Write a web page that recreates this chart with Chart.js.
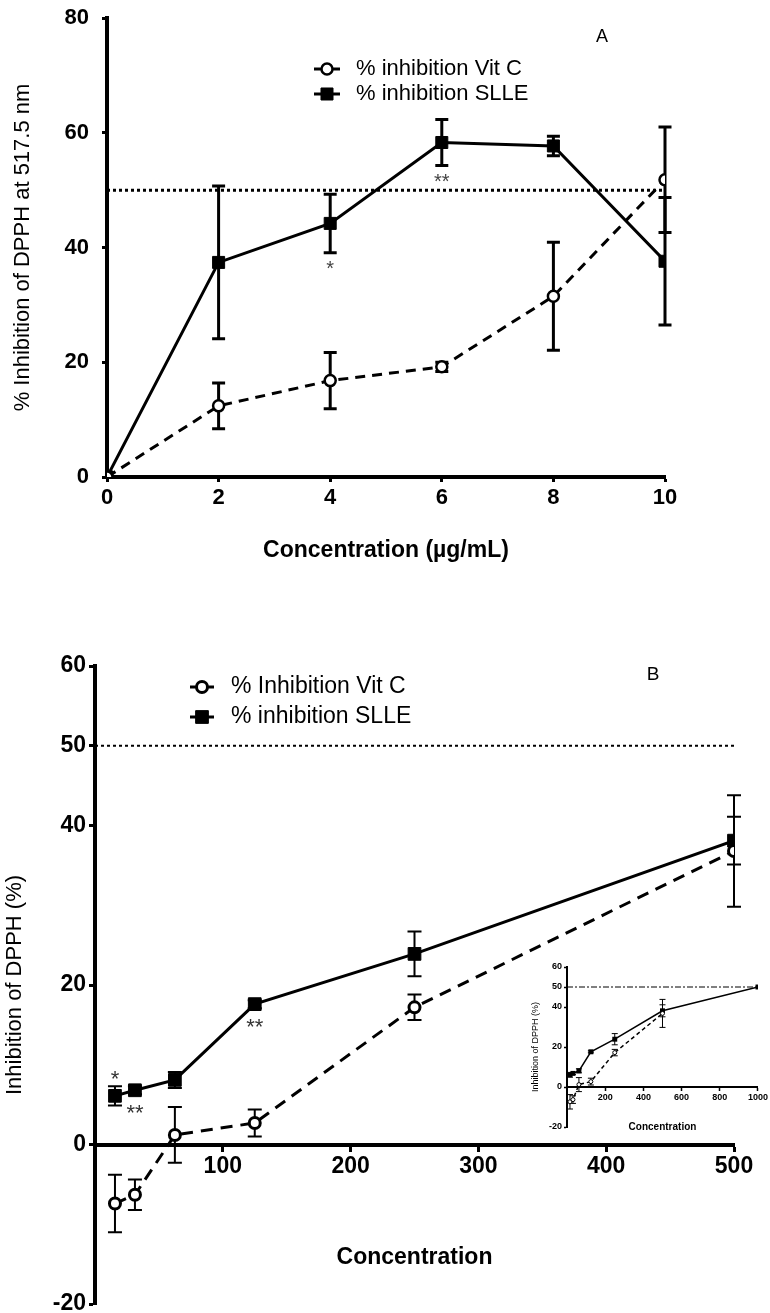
<!DOCTYPE html>
<html>
<head>
<meta charset="utf-8">
<script src="https://cdn.jsdelivr.net/npm/chart.js@4/dist/chart.umd.min.js"></script>
<style>
  body { margin: 0; background: #fff; }
  #wrap { position: relative; width: 770px; height: 1313px; overflow: hidden; background: #fff; }
  canvas { position: absolute; }
</style>
</head>
<body>
<div id="wrap">
  <canvas id="chartA" width="770" height="590" style="left:0;top:0"></canvas>
  <canvas id="chartB" width="770" height="700" style="left:0;top:640px"></canvas>
  <canvas id="inset" width="250" height="230" style="left:520px;top:945px"></canvas>
</div>
<script>
// Panel A: 0-10 ug/mL
const concA = [0, 2, 4, 6, 8, 10];
const vitCA = [0, 12.4, 16.8, 19.2, 31.5, 51.8];
const vitCErrA = [0, 4.0, 4.9, 0.8, 9.4, 9.2];
const slleA = [0, 37.4, 44.2, 58.3, 57.7, 37.6];
const slleErrA = [0, 13.3, 5.1, 4.0, 1.7, 11.1];
const sigA = ["", "", "*", "**", "", ""];
const xTicksA = [0, 2, 4, 6, 8, 10];
const yTicksA = [0, 20, 40, 60, 80];

// Panel B: 15.6-500
const concB = [15.625, 31.25, 62.5, 125, 250, 500];
const vitCB = [-7.4, -6.3, 1.2, 2.7, 17.2, 36.8];
const vitCErrB = [3.6, 1.9, 3.5, 1.7, 1.6, 7.0];
const slleB = [6.1, 6.8, 8.1, 17.6, 23.9, 38.1];
const slleErrB = [1.2, 0.5, 1.0, 0.5, 2.8, 3.0];
const sigB = ["*", "**", "", "**", "", ""];
const sigPosB = ["above", "below", "", "below", "", ""];
const xTicksB = [100, 200, 300, 400, 500];
const yTicksB = [-20, 0, 20, 40, 50, 60];

// inset: SLLE carried on to 1000
const concInset = [15.625, 31.25, 62.5, 125, 250, 500, 1000];
const slleInset = [6.1, 6.8, 8.1, 17.6, 23.9, 38.1, 50];
const slleErrInset = [1.2, 0.5, 1.0, 0.5, 2.8, 3.0, 0];
const xTicksInset = [200, 400, 600, 800, 1000];

const halfLine = 50;
const FONT = "'Liberation Sans', Arial, sans-serif";

function pts(xs, ys) {
  return xs.map((x, i) => ({ x: x, y: ys[i] }));
}

function drawMarker(ctx, ds, x, y) {
  const r = ds.pointRadius;
  ctx.save();
  ctx.fillStyle = ds.pointBackgroundColor;
  ctx.strokeStyle = "#000";
  ctx.lineWidth = ds.pointBorderWidth;
  ctx.setLineDash([]);
  ctx.beginPath();
  if (ds.pointStyle === "rect") {
    const s = r * Math.SQRT1_2;
    ctx.rect(x - s, y - s, 2 * s, 2 * s);
  } else {
    ctx.arc(x, y, r, 0, Math.PI * 2);
  }
  ctx.fill();
  if (ds.pointBorderWidth > 0) ctx.stroke();
  ctx.restore();
}

// error bars, significance stars, legend and panel letter
const decor = {
  id: "decor",
  beforeDatasetsDraw(chart, args, opts) {
    const ctx = chart.ctx;
    const ys = chart.scales.y;
    chart.data.datasets.forEach((ds, i) => {
      if (!ds.errors) return;
      const meta = chart.getDatasetMeta(i);
      ctx.save();
      ctx.strokeStyle = "#000";
      ctx.lineWidth = opts.errWidth;
      meta.data.forEach((pt, j) => {
        const e = ds.errors[j];
        if (!e) return;
        const v = ds.data[j].y;
        const top = ys.getPixelForValue(v + e);
        const bot = ys.getPixelForValue(v - e);
        ctx.beginPath();
        ctx.moveTo(pt.x, top); ctx.lineTo(pt.x, bot);
        ctx.moveTo(pt.x - opts.cap, top); ctx.lineTo(pt.x + opts.cap, top);
        ctx.moveTo(pt.x - opts.cap, bot); ctx.lineTo(pt.x + opts.cap, bot);
        ctx.stroke();
      });
      ctx.restore();
    });
  },
  afterDatasetsDraw(chart, args, opts) {
    const ctx = chart.ctx;
    const ys = chart.scales.y;
    chart.data.datasets.forEach((ds, i) => {
      if (!ds.sig) return;
      const meta = chart.getDatasetMeta(i);
      ctx.save();
      ctx.fillStyle = opts.sigColor;
      ctx.font = opts.sigSize + "px " + FONT;
      ctx.textAlign = "center";
      ctx.textBaseline = "alphabetic";
      meta.data.forEach((pt, j) => {
        if (!ds.sig[j]) return;
        const v = ds.data[j].y;
        const e = ds.errors ? ds.errors[j] : 0;
        const above = ds.sigPos && ds.sigPos[j] === "above";
        const cy = above ? ys.getPixelForValue(v + e) - opts.sigGap
                         : ys.getPixelForValue(v - e) + opts.sigGap;
        ctx.fillText(ds.sig[j], pt.x, cy + 0.57 * opts.sigSize);
      });
      ctx.restore();
    });

    const lg = opts.legend;
    if (lg) {
      let row = 0;
      chart.data.datasets.forEach((ds) => {
        if (!ds.legendLabel) return;
        const y = lg.y + row * lg.rowGap;
        ctx.save();
        ctx.strokeStyle = "#000";
        ctx.lineWidth = lg.lineWidth;
        ctx.beginPath();
        ctx.moveTo(lg.x, y);
        ctx.lineTo(lg.x + lg.lineLen, y);
        ctx.stroke();
        ctx.restore();
        drawMarker(ctx, ds, lg.x + lg.lineLen / 2, y);
        ctx.save();
        ctx.fillStyle = "#000";
        ctx.font = lg.size + "px " + FONT;
        ctx.textBaseline = "middle";
        ctx.fillText(ds.legendLabel, lg.textX, y);
        ctx.restore();
        row++;
      });
    }
    const p = opts.panel;
    if (p) {
      ctx.save();
      ctx.fillStyle = "#000";
      ctx.font = p.size + "px " + FONT;
      ctx.textAlign = "center";
      ctx.textBaseline = "middle";
      ctx.fillText(p.text, p.x, p.y);
      ctx.restore();
    }
  }
};

function axis(o) {
  return {
    type: "linear",
    min: o.min,
    max: o.max,
    position: o.position,
    afterBuildTicks: (s) => { s.ticks = o.ticks.map((v) => ({ value: v })); },
    afterFit: (s) => {
      o.fit(s);
      // let layout.padding alone decide the top/bottom inset
      s.paddingTop = 0;
      s.paddingBottom = 0;
    },
    border: { display: true, color: "#000", width: o.border },
    grid: { drawOnChartArea: false, drawTicks: true, tickLength: o.tickLen, tickWidth: o.tickWidth, tickColor: "#000" },
    ticks: {
      color: "#000",
      padding: o.pad,
      maxRotation: 0,
      autoSkip: false,
      font: { family: FONT, size: o.tickSize, weight: "bold" },
      callback: (v) => String(v)
    },
    title: {
      display: true,
      text: o.title,
      color: "#000",
      font: { family: FONT, size: o.titleSize, weight: o.titleWeight },
      padding: o.titlePad
    }
  };
}

function base(datasets, scales, padding, decorOpts) {
  return {
    type: "scatter",
    data: { datasets: datasets },
    options: {
      responsive: false,
      animation: false,
      events: [],
      layout: { padding: padding },
      plugins: { legend: { display: false }, tooltip: { enabled: false }, decor: decorOpts },
      scales: scales
    },
    plugins: [decor]
  };
}

// ---- Panel A
new Chart(document.getElementById("chartA"), base(
  [
    {
      legendLabel: "% inhibition Vit C",
      data: pts(concA, vitCA), errors: vitCErrA,
      showLine: true, borderColor: "#000", borderWidth: 3, borderDash: [10, 7],
      pointStyle: "circle", pointRadius: 5.5, pointBorderWidth: 2.5,
      pointBackgroundColor: "#fff", pointBorderColor: "#000"
    },
    {
      legendLabel: "% inhibition SLLE",
      data: pts(concA, slleA), errors: slleErrA, sig: sigA,
      showLine: true, borderColor: "#000", borderWidth: 3,
      pointStyle: "rect", pointRadius: 8.5, pointBorderWidth: 1,
      pointBackgroundColor: "#000", pointBorderColor: "#000"
    },
    {
      data: [{ x: 0, y: halfLine }, { x: 10, y: halfLine }],
      showLine: true, borderColor: "#000", borderWidth: 3, borderDash: [3, 3], pointRadius: 0
    }
  ],
  {
    x: axis({ min: 0, max: 10, position: "bottom", ticks: xTicksA, border: 4, tickLen: 5, tickWidth: 3, pad: 3,
      tickSize: 22, title: "Concentration (µg/mL)", titleSize: 23, titleWeight: "bold",
      titlePad: { top: 0, bottom: 26 }, fit: (s) => { s.height = 113; } }),
    y: axis({ min: 0, max: 80, position: "left", ticks: yTicksA, border: 4, tickLen: 5, tickWidth: 3, pad: 13,
      tickSize: 22, title: "% Inhibition of DPPH at 517.5 nm", titleSize: 22, titleWeight: "normal",
      titlePad: { top: 10, bottom: 0 }, fit: (s) => { s.width = 107; } })
  },
  { left: 0, top: 18, right: 105, bottom: 0 },
  {
    errWidth: 3, cap: 6.5, sigColor: "#444", sigSize: 20, sigGap: 11,
    legend: { x: 314, lineLen: 26, textX: 356, y: 69, rowGap: 25, size: 22, lineWidth: 3 },
    panel: { text: "A", x: 602, y: 37, size: 18 }
  }
));

// ---- Panel B
new Chart(document.getElementById("chartB"), base(
  [
    {
      legendLabel: "% Inhibition Vit C",
      data: pts(concB, vitCB), errors: vitCErrB,
      showLine: true, borderColor: "#000", borderWidth: 3, borderDash: [12, 8],
      pointStyle: "circle", pointRadius: 5.5, pointBorderWidth: 3,
      pointBackgroundColor: "#fff", pointBorderColor: "#000"
    },
    {
      legendLabel: "% inhibition SLLE",
      data: pts(concB, slleB), errors: slleErrB, sig: sigB, sigPos: sigPosB,
      showLine: true, borderColor: "#000", borderWidth: 3,
      pointStyle: "rect", pointRadius: 9, pointBorderWidth: 1,
      pointBackgroundColor: "#000", pointBorderColor: "#000"
    },
    {
      data: [{ x: 0, y: halfLine }, { x: 500, y: halfLine }],
      showLine: true, borderColor: "#000", borderWidth: 2, borderDash: [3, 3], pointRadius: 0
    }
  ],
  {
    x: axis({ min: 0, max: 500, position: { y: 0 }, ticks: xTicksB, border: 4, tickLen: 5, tickWidth: 3, pad: 3,
      tickSize: 23, title: "Concentration", titleSize: 23, titleWeight: "bold",
      titlePad: { top: 0, bottom: 0 }, fit: (s) => { s.height = 127; } }),
    y: axis({ min: -20, max: 60, position: "left", ticks: yTicksB, border: 4, tickLen: 6, tickWidth: 3, pad: 3,
      tickSize: 23, title: "Inhibition of DPPH (%)", titleSize: 22, titleWeight: "normal",
      titlePad: { top: 2, bottom: 0 }, fit: (s) => { s.width = 95; } })
  },
  { left: 0, top: 26, right: 36, bottom: 36 },
  {
    errWidth: 2, cap: 7, sigColor: "#333", sigSize: 22, sigGap: 13,
    legend: { x: 190, lineLen: 24, textX: 231, y: 47, rowGap: 30, size: 23, lineWidth: 3 },
    panel: { text: "B", x: 653, y: 35, size: 19 }
  }
));

// ---- Inset (0-1000)
new Chart(document.getElementById("inset"), base(
  [
    {
      data: pts(concB, vitCB), errors: vitCErrB,
      showLine: true, borderColor: "#000", borderWidth: 1.5, borderDash: [4, 3],
      pointStyle: "circle", pointRadius: 2, pointBorderWidth: 1,
      pointBackgroundColor: "#fff", pointBorderColor: "#000"
    },
    {
      data: pts(concInset, slleInset), errors: slleErrInset,
      showLine: true, borderColor: "#000", borderWidth: 1.5,
      pointStyle: "rect", pointRadius: 3.5, pointBorderWidth: 0,
      pointBackgroundColor: "#000", pointBorderColor: "#000"
    },
    {
      data: [{ x: 0, y: halfLine }, { x: 1000, y: halfLine }],
      showLine: true, borderColor: "#000", borderWidth: 1, borderDash: [6, 2, 2, 2], pointRadius: 0
    }
  ],
  {
    x: axis({ min: 0, max: 1000, position: { y: 0 }, ticks: xTicksInset, border: 2, tickLen: 3, tickWidth: 1.5, pad: 2,
      tickSize: 9, title: "Concentration", titleSize: 10, titleWeight: "bold",
      titlePad: { top: 0, bottom: 0 }, fit: (s) => { s.height = 46; } }),
    y: axis({ min: -20, max: 60, position: "left", ticks: yTicksB, border: 2, tickLen: 3, tickWidth: 1.5, pad: 2,
      tickSize: 9, title: "Inhibition of DPPH (%)", titleSize: 9, titleWeight: "normal",
      titlePad: { top: 10, bottom: 0 }, fit: (s) => { s.width = 47; } })
  },
  { left: 0, top: 22, right: 12, bottom: 48 },
  { errWidth: 1, cap: 3, sigColor: "#000", sigSize: 9, sigGap: 5 }
));
</script>
</body>
</html>
